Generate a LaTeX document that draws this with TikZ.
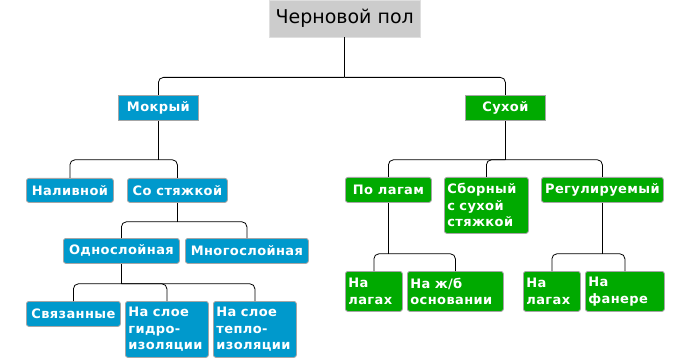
\documentclass[tikz,border=0pt]{standalone}
\usepackage{fontspec}
\setmainfont{DejaVu Sans}
\newfontfamily\boxfont[LetterSpace=3]{DejaVu Sans Bold}
\usetikzlibrary{positioning}

\definecolor{wetblue}{HTML}{0099CC}
\definecolor{drygreen}{HTML}{00AA00}
\definecolor{rootgray}{HTML}{CCCCCC}

\begin{document}
\begin{tikzpicture}[
    x=1pt, y=-1pt,
    box/.style={
        draw=gray!70,
        line width=0.8pt,
        rounded corners=2.5pt,
        anchor=north west,
        text=white,
        font=\boxfont\fontsize{13}{16.5}\selectfont,
        inner xsep=3pt, inner ysep=2pt
    },
    wet/.style={box, fill=wetblue},
    dry/.style={box, fill=drygreen},
    edge/.style={line width=0.8pt, rounded corners=5pt}
]
\useasboundingbox (0,0) rectangle (690,358);

\node[draw=gray!25, fill=rootgray, anchor=north west, minimum width=151pt, minimum height=37pt,
      font=\fontsize{19}{21}\selectfont] (root) at (269,0) {Черновой пол};

% wet branch
\node[wet, rounded corners=0pt, minimum width=80pt, minimum height=25pt] (wet) at (118,95) {Мокрый};
\node[wet, minimum width=87pt, minimum height=24pt] (pour) at (26,178) {Наливной};
\node[wet, minimum width=100pt, minimum height=24pt] (screed) at (127,178) {Со стяжкой};
\node[wet, minimum width=116pt, minimum height=25pt] (single) at (63,238) {Однослойная};
\node[wet, minimum width=123pt, minimum height=25pt] (multi) at (185,238) {Многослойная};
\node[wet, minimum width=94pt, minimum height=25pt] (bond) at (26,301) {Связанные};
\node[wet, align=left, text width=77pt, minimum height=56pt] (hydro) at (125,301) {На слое\\гидро-\\изоляции};
\node[wet, align=left, text width=77pt, minimum height=56pt] (therm) at (213,301) {На слое\\тепло-\\изоляции};

% dry branch
\node[dry, rounded corners=0pt, minimum width=80pt, minimum height=25pt] (dry) at (465,95) {Сухой};
\node[dry, minimum width=86pt, minimum height=25pt] (joist) at (345,177) {По лагам};
\node[dry, align=left, text width=78pt, minimum height=56pt] (prefab) at (444,177) {Сборный\\с сухой\\стяжкой};
\node[dry, minimum width=122pt, minimum height=25pt] (adjust) at (541,177) {Регулируемый};
\node[dry, align=left, text width=51pt, minimum height=40pt] (joistA) at (345,271) {На\\лагах};
\node[dry, align=left, text width=90pt, minimum height=40pt] (concrete) at (407,271) {На ж/б\\основании};
\node[dry, align=left, text width=51pt, minimum height=40pt] (joistB) at (523,271) {На\\лагах};
\node[dry, align=left, text width=73pt, minimum height=40pt] (plywood) at (585,271) {На\\фанере};

% connectors
\draw[edge] (root.south) -- ++(0,40) coordinate (r0);
\draw[edge] (r0) -| (wet.north);
\draw[edge] (r0) -| (dry.north);

\draw[edge] (wet.south) -- ++(0,39) coordinate (r1);
\draw[edge] (r1) -| (pour.north);
\draw[edge] (r1) -| (screed.north);

\draw[edge] (screed.south) -- ++(0,19) coordinate (r2);
\draw[edge] (r2) -| (single.north);
\draw[edge] (r2) -| (multi.north);

\draw[edge] (single.south) -- ++(0,20) coordinate (r3);
\draw[edge] (r3) -| (bond.north);
\draw[edge] (r3) -| (hydro.north);
\draw[edge] (r3) -| (therm.north);

\draw[edge] (dry.south) -- ++(0,39) coordinate (r4);
\draw[edge] (r4) -| (joist.north);
\draw[edge] (r4) -| (prefab.north);
\draw[edge] (r4) -| (adjust.north);

\draw[edge] (joist.south) -- ++(0,51) coordinate (r5);
\draw[edge] (r5) -| (joistA.north);
\draw[edge] (r5) -| (concrete.north);

\draw[edge] (adjust.south) -- ++(0,51) coordinate (r6);
\draw[edge] (r6) -| (joistB.north);
\draw[edge] (r6) -| (plywood.north);

\end{tikzpicture}
\end{document}
